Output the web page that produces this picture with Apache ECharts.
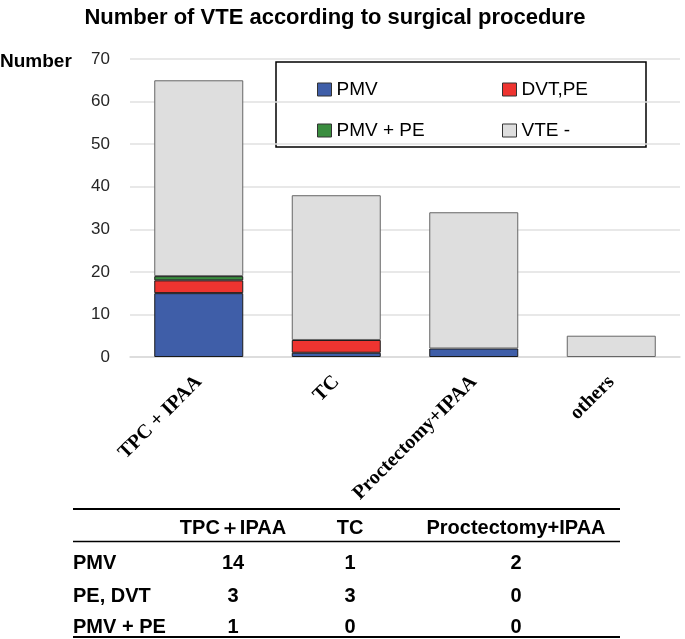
<!DOCTYPE html>
<html>
<head>
<meta charset="utf-8">
<script src="https://cdn.jsdelivr.net/npm/echarts@6/dist/echarts.min.js"></script>
<style>
html,body{margin:0;padding:0;background:#fff;}
#chart{width:685px;height:639px;}
</style>
</head>
<body>
<div id="chart"></div>
<script>
// ---- data ----
var categories = ['TPC + IPAA', 'TC', 'Proctectomy+IPAA', 'others'];
var pmv = [15, 1, 2, 0];
var dvtPe = [3, 3, 0, 0];
var pmvPe = [1, 0, 0, 0];
var vteNeg = [46, 34, 32, 5];
var yTicks = [0, 10, 20, 30, 40, 50, 60, 70];

var tableHeader = ['', 'TPC\uFF0BIPAA', 'TC', 'Proctectomy+IPAA'];
var tableRowLabels = ['PMV', 'PE, DVT', 'PMV + PE'];
var tablePMV = [14, 1, 2];
var tablePEDVT = [3, 3, 0];
var tablePMVPE = [1, 0, 0];

// ---- chart ----
var chart = echarts.init(document.getElementById('chart'));
var sans = "'Liberation Sans', Arial, sans-serif";
function nz(arr){ return arr.map(function(v){ return v === 0 ? null : v; }); }

var colors = {pmv:'#3F5EA8', dvt:'#EE3430', pmvpe:'#3A8D3F', neg:'#DEDEDE'};

function barSeries(name, data, color, border){
  return {
    name: name, type: 'bar', stack: 'total', data: nz(data),
    barWidth: 89,
    itemStyle: {color: color, borderColor: border, borderWidth: 1},
    emphasis: {disabled: true}
  };
}

// table graphics
var colX = [73, 233, 350, 516];
var rowY = [528, 563, 596, 627];
var tableFont = 'bold 20px ' + sans;
var g = [];
g.push({type:'rect', shape:{x:276, y:62, width:370, height:85}, style:{fill:'#fff', stroke:'#000', lineWidth:1.5}, z:0});
g.push({type:'line', shape:{x1:73, y1:509, x2:620, y2:509}, style:{stroke:'#000', lineWidth:2}});
g.push({type:'line', shape:{x1:73, y1:541.5, x2:620, y2:541.5}, style:{stroke:'#000', lineWidth:1.5}});
g.push({type:'line', shape:{x1:73, y1:637, x2:620, y2:637}, style:{stroke:'#000', lineWidth:2}});
for (var c = 1; c < tableHeader.length; c++) {
  g.push({type:'text', x:colX[c], y:rowY[0], style:{text:tableHeader[c], font:tableFont, fill:'#000', align:'center', verticalAlign:'middle'}});
}
var tableVals = [tablePMV, tablePEDVT, tablePMVPE];
for (var r = 0; r < tableRowLabels.length; r++) {
  g.push({type:'text', x:colX[0], y:rowY[r+1], style:{text:tableRowLabels[r], font:tableFont, fill:'#000', align:'left', verticalAlign:'middle'}});
  for (var k = 0; k < 3; k++) {
    g.push({type:'text', x:colX[k+1], y:rowY[r+1], style:{text:String(tableVals[r][k]), font:tableFont, fill:'#000', align:'center', verticalAlign:'middle'}});
  }
}
g.push({type:'text', x:0, y:62, style:{text:'Number', font:'bold 19px ' + sans, fill:'#000', align:'left', verticalAlign:'middle'}});

var legendText = {fontFamily:sans, fontSize:19, color:'#000'};

chart.setOption({
  animation: false,
  backgroundColor: '#fff',
  title: {
    text: 'Number of VTE according to surgical procedure',
    left: 330, top: 2, textAlign: 'center',
    textStyle: {fontFamily: sans, fontWeight: 'bold', fontSize: 22, color: '#000'}
  },
  legend: [
    {data:['PMV', 'PMV + PE'], orient:'vertical', left:312, top:75, icon:'rect', itemWidth:14, itemHeight:13, itemGap:22, textStyle:legendText, z:5,
      itemStyle:{borderColor:'#333', borderWidth:1}},
    {data:['DVT,PE', 'VTE -'], orient:'vertical', left:497, top:75, icon:'rect', itemWidth:14, itemHeight:13, itemGap:22, textStyle:legendText, z:5,
      itemStyle:{borderColor:'#333', borderWidth:1}}
  ],
  grid: {left:130, right:5, top:59, height:298, containLabel:false},
  xAxis: {
    type: 'category', data: categories,
    axisLine: {show:true, lineStyle:{color:'#D9D9D9', width:1.5}},
    axisTick: {show:false},
    axisLabel: {rotate:45, margin:22, interval:0, color:'#000', fontFamily:"'Liberation Serif', 'Times New Roman', serif", fontWeight:'bold', fontSize:20}
  },
  yAxis: {
    type: 'value', min: 0, max: 70, interval: 10,
    axisLine: {show:false}, axisTick: {show:false},
    splitLine: {lineStyle:{color:'#E0E0E0', width:1.5}},
    axisLabel: {margin:20, color:'#262626', fontFamily:sans, fontSize:17,
      formatter: function(v){ return yTicks.indexOf(v) >= 0 ? String(v) : ''; }}
  },
  series: [
    barSeries('PMV', pmv, colors.pmv, '#1a1a1a'),
    barSeries('DVT,PE', dvtPe, colors.dvt, '#1a1a1a'),
    barSeries('PMV + PE', pmvPe, colors.pmvpe, '#1a1a1a'),
    barSeries('VTE -', vteNeg, colors.neg, '#666')
  ],
  graphic: g
});
</script>
</body>
</html>
